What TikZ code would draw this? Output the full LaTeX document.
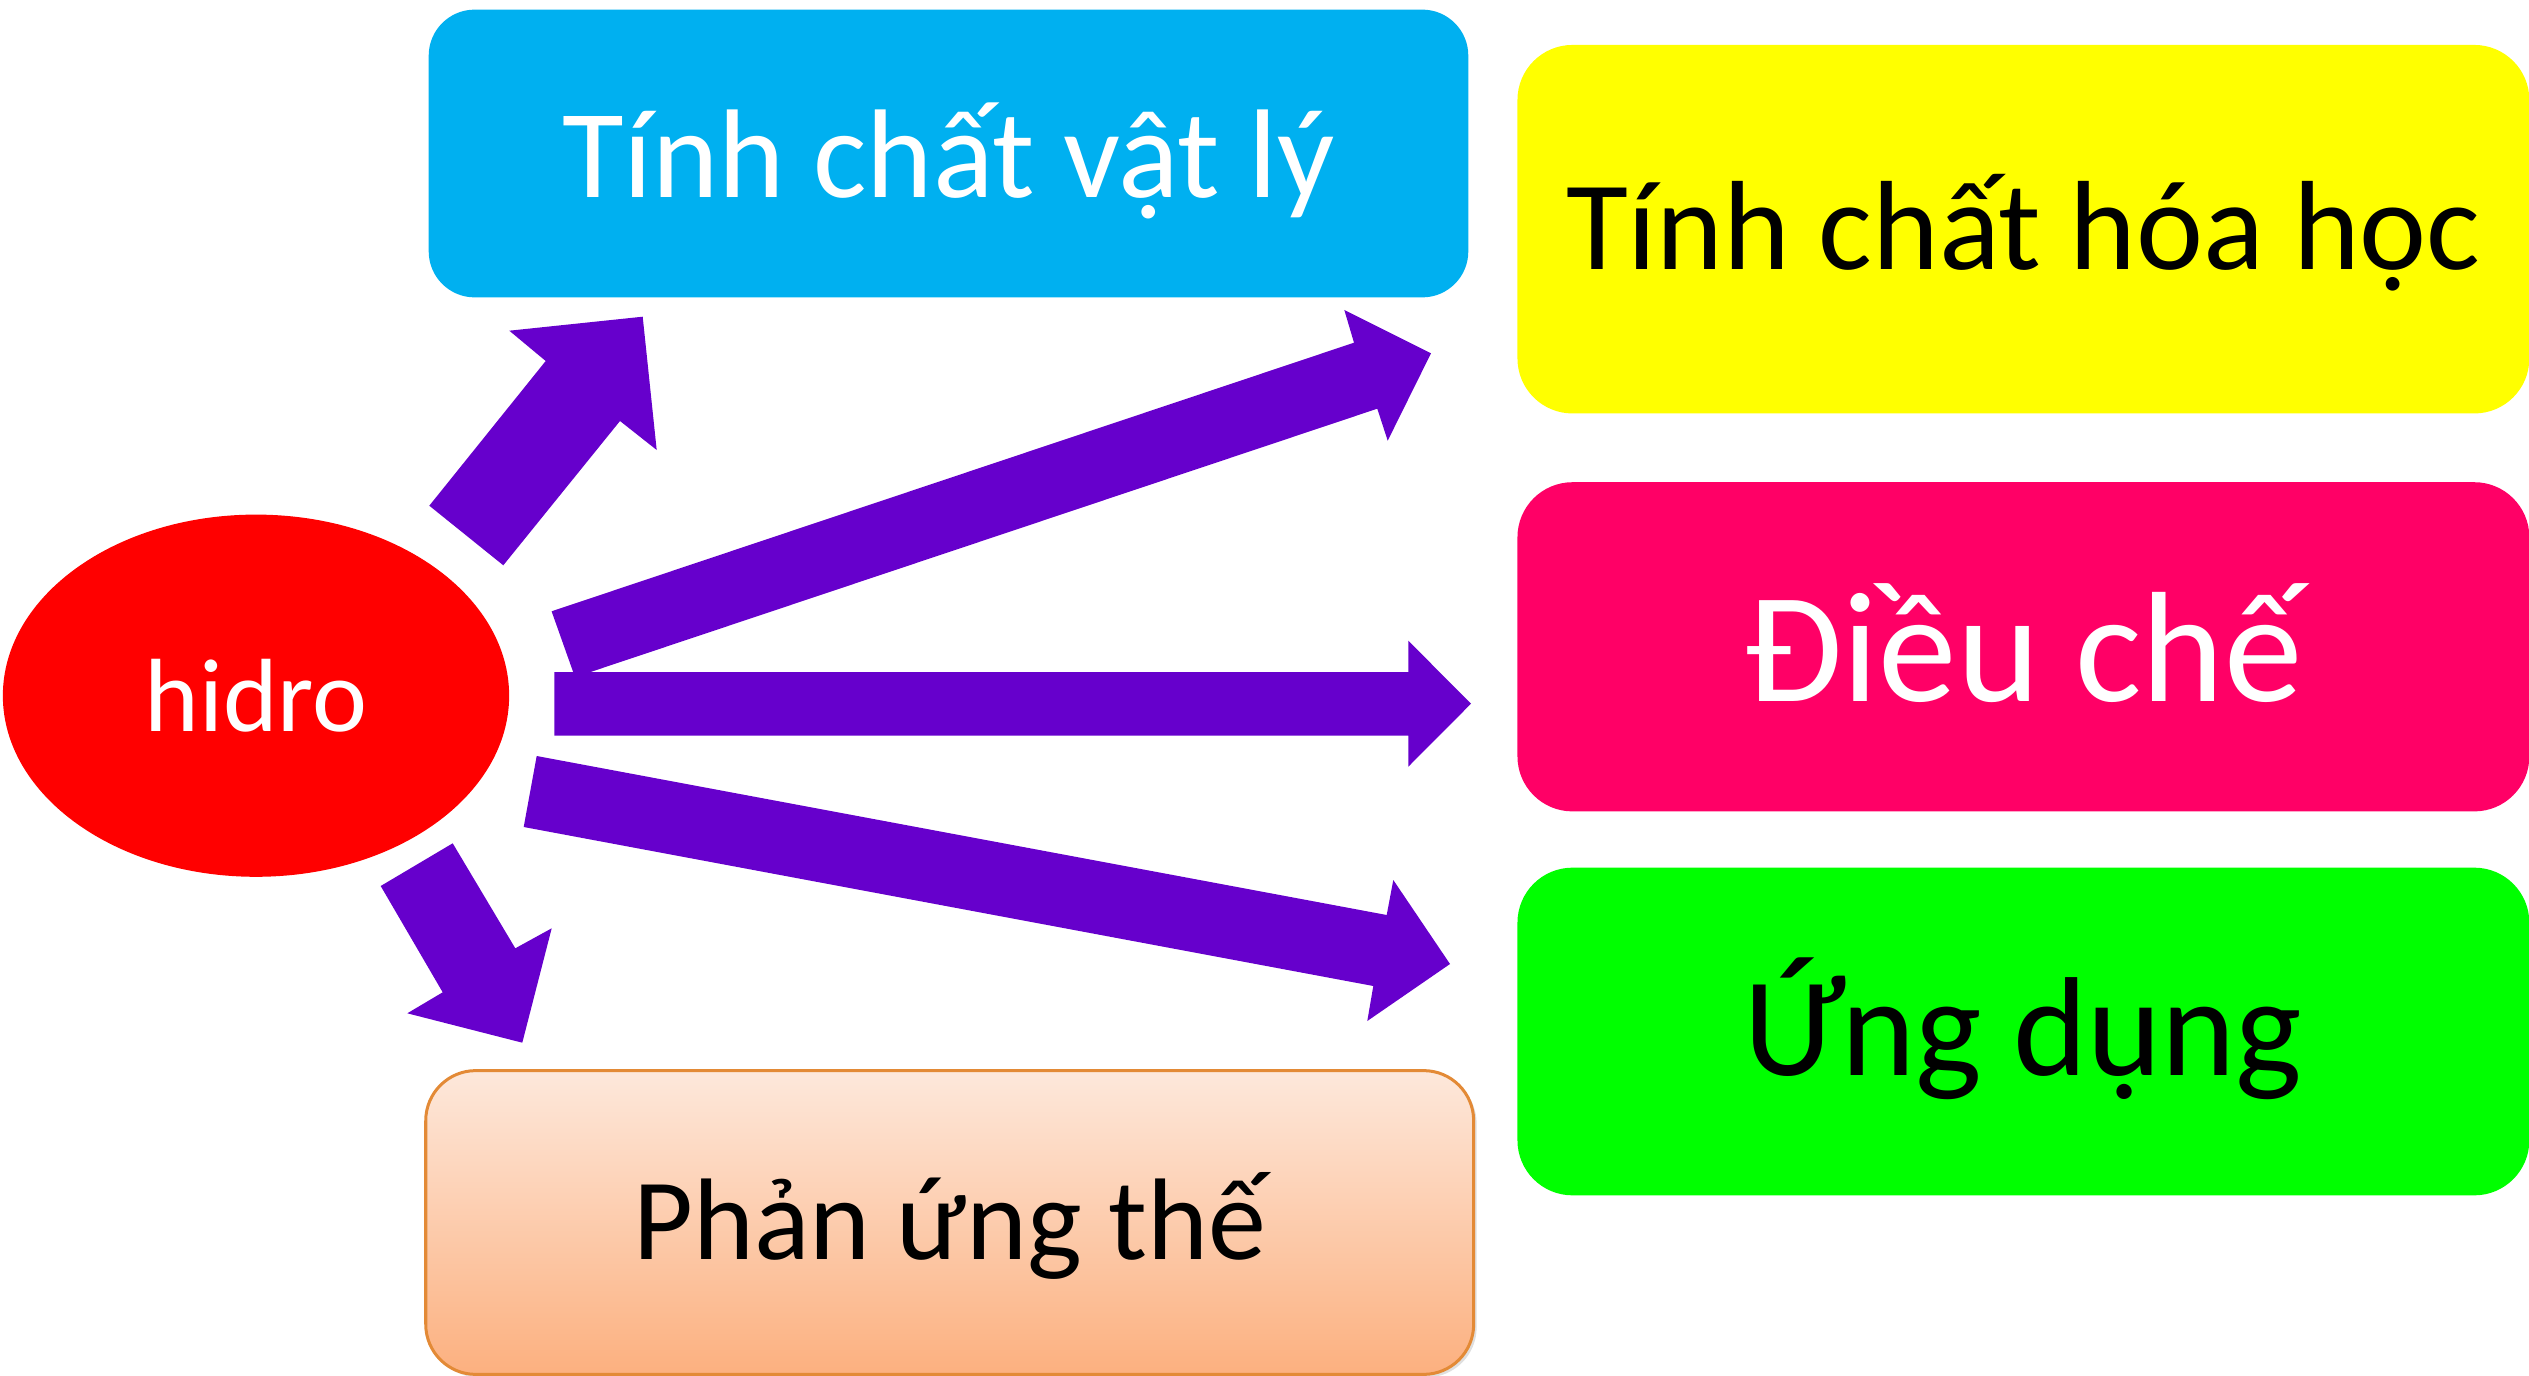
\documentclass[tikz,border=0pt]{standalone}
\usepackage{fontspec}
\setmainfont{Carlito}
\usetikzlibrary{shapes.geometric,shadows}
\definecolor{cblue}{HTML}{00B0F0}
\definecolor{cyellow}{HTML}{FFFF00}
\definecolor{cpink}{HTML}{FF0066}
\definecolor{cgreen}{HTML}{00FF00}
\definecolor{cred}{HTML}{FF0000}
\definecolor{cpurple}{HTML}{6600CC}
\definecolor{peachtop}{HTML}{FDE8DB}
\definecolor{peachbot}{HTML}{FCB07F}
\definecolor{peachline}{HTML}{E38A36}
\begin{document}
\begin{tikzpicture}[x=0.01cm,y=-0.01cm,
  box/.style={rectangle, rounded corners=0.55cm, inner sep=0pt, draw=none, align=center, text depth=0pt},
  blockarrow/.style={fill=cpurple, draw=none}]
\useasboundingbox (0,0) rectangle (2529,1376);
% boxes
\node[box, fill=cblue, rounded corners=0.46cm, minimum width=10.39cm, minimum height=2.876cm,
  text=white, text height=24.8pt, font=\fontsize{35.9}{40}\selectfont] (phys) at (948.5,153.5) {Tính chất vật lý};
\node[box, fill=cyellow, minimum width=10.113cm, minimum height=3.683cm,
  text=black, text height=22.8pt, font=\fontsize{36.1}{40}\selectfont] (chem) at (2023.4,229.2) {Tính chất hóa học};
\node[box, fill=cpink, minimum width=10.113cm, minimum height=3.29cm,
  text=white, text height=30.9pt, font=\fontsize{44.7}{50}\selectfont] (prep) at (2023.4,646.8) {Điều chế};
\node[box, fill=cgreen, minimum width=10.113cm, minimum height=3.275cm,
  text=black, text height=25.3pt, font=\fontsize{40.1}{45}\selectfont] (appl) at (2023.4,1031.5) {Ứng dụng};
\node[box, rounded corners=0.5cm, top color=peachtop, bottom color=peachbot, draw=peachline, line width=0.03cm,
  drop shadow={shadow xshift=0.03cm, shadow yshift=-0.03cm, opacity=0.25},
  minimum width=10.473cm, minimum height=3.036cm,
  text=black, text height=21.05pt, font=\fontsize{33}{38}\selectfont] (subst) at (949.7,1222.5) {Phản ứng thế};
% center
\node[ellipse, fill=cred, minimum width=5.06cm, minimum height=3.62cm, inner sep=0pt,
  text=white, font=\fontsize{29.6}{33}\selectfont] (hidro) at (256,695.7) {hidro};
% block arrows
\path[blockarrow] (429.3,505.7) -- (545.7,361) -- (509.3,330.7) -- (642.7,316.7) -- (656.7,450) -- (620,421) -- (503.3,565.3) -- cycle;
\path[blockarrow] (551.6,611.3) -- (1354,342.7) -- (1344.3,310) -- (1431,353.3) -- (1387.7,440.7) -- (1377.3,408.7) -- (575,677.2) -- cycle;
\path[blockarrow] (554.3,672) -- (1408.3,672) -- (1408.3,640.7) -- (1471,703.7) -- (1408.3,766.7) -- (1408.3,735.7) -- (554.3,735.7) -- cycle;
\path[blockarrow] (536.7,756) -- (1386.7,915) -- (1393.3,880) -- (1450,964) -- (1367.3,1021) -- (1373.3,986) -- (523.7,827) -- cycle;
\path[blockarrow] (380.7,886) -- (452.7,843.3) -- (515.3,948.3) -- (551.7,928.3) -- (522.3,1042.7) -- (407.3,1013.3) -- (442.7,992.3) -- cycle;
\end{tikzpicture}
\end{document}
